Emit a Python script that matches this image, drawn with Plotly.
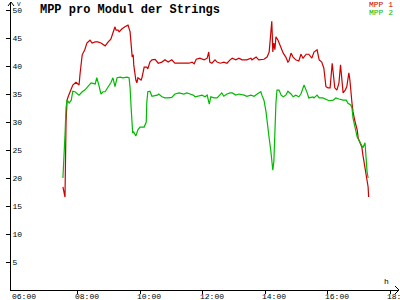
import plotly.graph_objects as go

DAY = "2024-01-01 "

mpp1_times = ["07:32","07:36","07:38","07:40","07:42","07:46","07:51","07:57","08:03","08:05",
    "08:09","08:14","08:18","08:24","08:28","08:34","08:39","08:45","08:53","08:59",
    "09:04","09:08","09:12","09:14","09:18","09:20","09:25","09:31","09:37","09:41",
    "09:43","09:45","09:47","09:48","09:52","09:54","09:56","10:02","10:04","10:08",
    "10:13","10:15","10:19","10:23","10:29","10:35","10:42","10:48","10:54","11:01",
    "11:07","11:21","11:34","11:40","11:44","11:48","11:55","12:03","12:09","12:12",
    "12:14","12:18","12:24","12:28","12:34","12:41","12:47","12:53","12:57","13:04",
    "13:10","13:16","13:25","13:33","13:35","13:43","13:48","13:58","14:04","14:08",
    "14:11","14:13","14:14","14:15","14:17","14:19","14:21","14:25","14:31","14:35",
    "14:40","14:44","14:46","14:50","14:54","14:59","15:05","15:09","15:13","15:19",
    "15:24","15:30","15:34","15:40","15:44","15:49","15:53","15:57","16:01","16:05",
    "16:09","16:11","16:14","16:18","16:22","16:25","16:28","16:30","16:34","16:37",
    "16:41","16:43","16:47","16:49","16:53","16:57","16:59","17:02","17:06","17:08",
    "17:12","17:16","17:18","17:19"]
mpp1_values = [18.4,16.6,30.0,33.9,34.5,35.4,36.6,37.1,36.6,38.7,
    42.0,42.9,44.1,44.6,44.1,44.3,44.3,44.1,43.6,44.3,
    44.8,45.9,47.0,46.4,46.4,46.1,46.6,47.0,47.3,46.1,
    43.8,41.6,42.0,40.2,37.5,37.0,37.9,37.5,38.0,39.8,
    39.8,39.5,40.7,41.1,41.2,40.5,40.7,41.1,40.7,41.1,
    40.5,40.5,40.5,40.7,40.4,41.2,41.4,41.1,41.4,42.5,
    40.7,40.5,41.1,40.7,40.5,40.7,40.5,41.1,41.4,41.1,
    41.4,41.1,41.1,41.4,41.1,41.6,41.1,41.2,41.6,42.5,
    46.8,48.0,45.5,42.5,44.1,42.9,45.2,44.6,43.2,42.3,
    41.6,40.7,40.9,42.3,41.6,41.1,40.9,42.1,41.4,42.1,
    42.1,41.4,42.5,42.9,41.1,40.7,39.6,36.3,36.1,36.1,
    40.5,38.8,36.1,35.7,37.0,40.2,37.5,35.2,35.7,36.3,
    38.8,37.5,33.4,31.8,30.0,28.6,27.1,26.3,25.5,24.1,
    21.8,20.0,18.4,16.6]

mpp2_times = ["07:32","07:34","07:36","07:38","07:40","07:44","07:48","07:51","07:55","08:03",
    "08:09","08:14","08:20","08:26","08:34","08:37","08:41","08:45","08:49","08:53",
    "08:59","09:04","09:08","09:12","09:16","09:22","09:27","09:35","09:39","09:41",
    "09:43","09:45","09:46","09:48","09:52","09:56","10:00","10:08","10:12","10:13",
    "10:15","10:19","10:23","10:33","10:36","10:42","10:48","10:54","11:01","11:07",
    "11:15","11:24","11:30","11:36","11:42","11:46","11:53","11:59","12:05","12:09",
    "12:12","12:13","12:16","12:22","12:28","12:32","12:37","12:41","12:47","12:53",
    "12:57","13:04","13:10","13:20","13:25","13:33","13:39","13:45","13:52","13:54",
    "13:58","14:02","14:04","14:08","14:11","14:13","14:15","14:17","14:19","14:21",
    "14:23","14:27","14:31","14:35","14:40","14:44","14:50","14:54","14:59","15:05",
    "15:09","15:15","15:21","15:24","15:32","15:34","15:40","15:44","15:51","15:55",
    "16:03","16:11","16:16","16:22","16:30","16:36","16:39","16:45","16:47","16:49",
    "16:53","16:57","17:01","17:06","17:08","17:12","17:14","17:16","17:18"]
mpp2_values = [20.0,22.9,27.7,32.5,33.9,33.4,33.9,35.5,35.4,34.8,
    35.4,35.7,36.4,37.0,36.8,37.9,36.6,35.0,35.4,35.4,
    36.3,37.0,37.9,36.3,37.9,38.0,37.9,38.0,37.9,36.1,
    32.5,28.9,28.0,28.2,27.5,28.6,29.1,29.1,30.0,33.4,
    35.4,35.5,34.6,34.8,35.0,34.5,34.3,34.3,34.4,35.0,
    35.2,35.0,35.2,35.0,34.8,34.5,34.6,34.8,34.5,34.8,
    33.6,33.2,34.5,34.3,34.3,34.8,35.2,34.6,35.0,35.2,
    35.2,34.8,35.0,34.8,34.6,34.8,34.6,35.0,35.4,34.8,
    33.9,31.8,30.0,27.1,25.0,23.2,21.4,22.9,28.9,33.4,
    35.7,35.7,34.8,34.5,34.8,35.5,35.0,34.5,34.8,34.5,
    35.0,36.6,35.2,34.3,34.5,34.3,34.8,34.3,34.3,34.1,
    33.8,33.9,34.3,34.1,33.9,33.9,33.4,33.0,32.5,30.7,
    28.9,27.3,26.6,25.9,25.4,26.3,22.7,21.1,20.0]

x_tick_labels = ["06:00","08:00","10:00","12:00","14:00","16:00","18:00"]
y_tick_values = [5,10,15,20,25,30,35,40,45,50]
series_names = ["MPP 1","MPP 2"]
title_text = "MPP pro Modul der Strings"

RED = "#cc0000"
GREEN = "#00bb00"
FONT = "Liberation Mono"

fig = go.Figure()
fig.add_trace(go.Scatter(x=[DAY + t for t in mpp1_times], y=mpp1_values, mode="lines",
                         line=dict(color=RED, width=1.2), name=series_names[0]))
fig.add_trace(go.Scatter(x=[DAY + t for t in mpp2_times], y=mpp2_values, mode="lines",
                         line=dict(color=GREEN, width=1.2), name=series_names[1]))

fig.update_layout(
    width=400, height=300,
    margin=dict(l=11, r=1, t=2, b=10, autoexpand=False),
    paper_bgcolor="white", plot_bgcolor="white",
    showlegend=False,
    font=dict(family=FONT, size=8, color="black"),
    title=dict(text="<b>" + title_text + "</b>", font=dict(family=FONT, size=12, color="black"),
               x=0.0747, xref="paper", xanchor="left", y=0.972, yref="container", yanchor="middle"),
    xaxis=dict(type="date", range=[DAY + "05:52:19", DAY + "18:17:17"],
               tickvals=[DAY + t for t in x_tick_labels], showticklabels=False,
               showgrid=False, zeroline=False, showline=True, linecolor="black", linewidth=1,
               ticks="outside", ticklen=3, tickcolor="black", automargin=False, fixedrange=True),
    yaxis=dict(range=[0, 51.43], tickvals=y_tick_values, ticktext=[str(v) for v in y_tick_values],
               showgrid=False, zeroline=False, showline=True, linecolor="black", linewidth=1,
               ticks="outside", ticklen=4, tickcolor="black", ticklabelposition="inside",
               automargin=False,
               tickfont=dict(family=FONT, size=8, color="black"), fixedrange=True),
)

# x tick labels (left-aligned just after each tick, as in the reference)
for lab in x_tick_labels:
    fig.add_annotation(text=lab, x=DAY + lab, y=0, xref="x", yref="paper",
                       xanchor="left", yanchor="top", xshift=-4, yshift=-1, showarrow=False,
                       borderpad=0, font=dict(family=FONT, size=8, color="black"))

# axis arrows
fig.add_shape(type="path", xref="paper", yref="paper", xsizemode="pixel", ysizemode="pixel",
              xanchor=1, yanchor=0, path="M -4 4 L 0 0 L -4 -4", line=dict(color="black", width=1))
fig.add_shape(type="path", xref="paper", yref="paper", xsizemode="pixel", ysizemode="pixel",
              xanchor=0, yanchor=1, path="M -3 -4 L 0 0 L 3 -4", line=dict(color="black", width=1))

# legend and axis unit labels
fig.add_annotation(text=series_names[0], x=0.9897, y=0.993, xref="paper", yref="paper",
                   xanchor="right", yanchor="middle", showarrow=False,
                   font=dict(family=FONT, size=8, color=RED))
fig.add_annotation(text=series_names[1], x=0.9897, y=0.965, xref="paper", yref="paper",
                   xanchor="right", yanchor="middle", showarrow=False,
                   font=dict(family=FONT, size=8, color=GREEN))
fig.add_annotation(text="h", x=0.969, y=0.031, xref="paper", yref="paper",
                   xanchor="center", yanchor="middle", showarrow=False,
                   font=dict(family=FONT, size=8, color="black"))
fig.add_annotation(text="V", x=0.014, y=1.0069, xref="paper", yref="paper",
                   xanchor="left", yanchor="top", showarrow=False, borderpad=0,
                   font=dict(family=FONT, size=6, color="black"))

fig.write_html("out.html")
